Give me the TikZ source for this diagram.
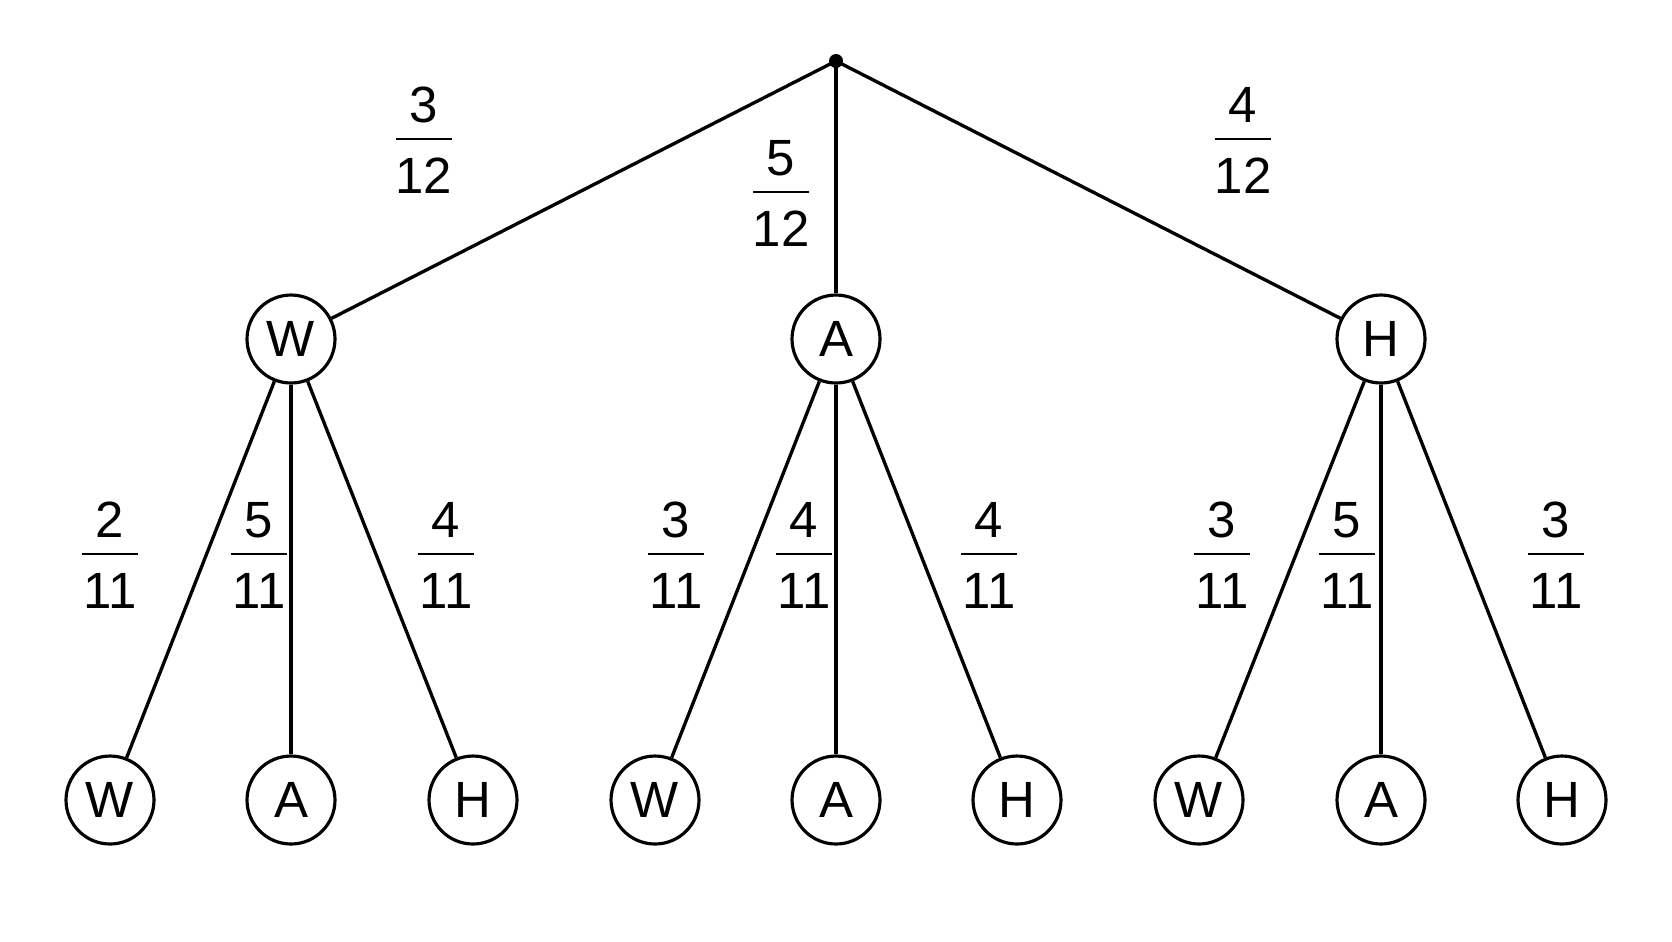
\documentclass[tikz,border=0pt]{standalone}
\usepackage{fontspec}
\setmainfont{Liberation Sans}
\begin{document}
\begin{tikzpicture}[x=0.02cm,y=-0.02cm,
  st/.style={circle,draw,line width=1.8pt,minimum size=1.76cm,inner sep=0pt,font=\fontsize{29}{32}\selectfont},
  ed/.style={line width=1.9pt},
  dg/.style={inner sep=0pt,font=\fontsize{29}{32}\selectfont}]
\useasboundingbox (0,0) rectangle (1672,941);
\newcommand\fr[4]{\draw[line width=1.6pt] (#1-28,#2) -- (#1+28,#2);
  \node[dg] at (#1,#2-34) {#3}; \node[dg] at (#1,#2+37) {#4};}
\fill (836,61) circle (0.14cm);
\coordinate (r) at (836,61);
\node[st] (W) at (291,339) {W};
\node[st] (A) at (836,339) {A};
\node[st] (H) at (1381,339) {H};
\foreach \n/\x/\l in {WW/110/W,WA/291/A,WH/473/H,AW/655/W,AA/836/A,AH/1017/H,HW/1199/W,HA/1381/A,HH/1562/H}
  \node[st] (\n) at (\x,800) {\l};
\foreach \p in {W,A,H} {
  \draw[ed] (r) -- (\p);
  \foreach \c in {W,A,H} \draw[ed] (\p) -- (\p\c);
}
\fr{424}{139}{3}{12}
\fr{781}{192}{5}{12}
\fr{1243}{139}{4}{12}
\fr{110}{554}{2}{11}
\fr{259}{554}{5}{11}
\fr{446}{554}{4}{11}
\fr{676}{554}{3}{11}
\fr{804}{554}{4}{11}
\fr{989}{554}{4}{11}
\fr{1222}{554}{3}{11}
\fr{1347}{554}{5}{11}
\fr{1556}{554}{3}{11}
\end{tikzpicture}
\end{document}
